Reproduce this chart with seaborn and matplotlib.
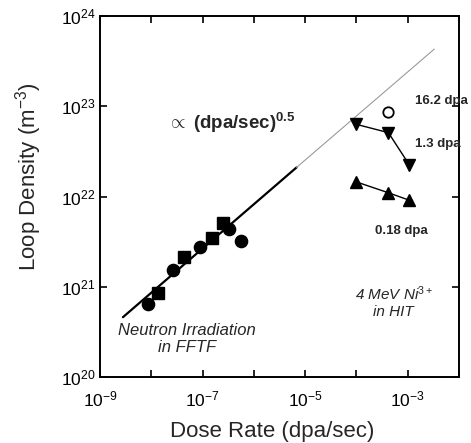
import numpy as np
import pandas as pd
import matplotlib
matplotlib.use("Agg")
import matplotlib.pyplot as plt
import matplotlib.ticker as mticker
import seaborn as sns

# ---- data ----
nc_rate = [8.7e-9, 2.7e-8, 9.1e-8, 3.3e-7, 5.6e-7]          # neutron, circles
nc_dens = [6.5e20, 1.55e21, 2.75e21, 4.4e21, 3.2e21]
ns_rate = [1.38e-8, 4.4e-8, 1.55e-7, 2.45e-7]               # neutron, squares
ns_dens = [8.5e20, 2.15e21, 3.45e21, 5.1e21]
hi13_rate = [1.0e-4, 4.2e-4, 1.07e-3]                        # 1.3 dpa, down triangles
hi13_dens = [6.3e22, 5.1e22, 2.25e22]
hi018_rate = [1.0e-4, 4.2e-4, 1.07e-3]                       # 0.18 dpa, up triangles
hi018_dens = [1.45e22, 1.1e22, 9.1e21]
hi162_rate = [4.2e-4]                                        # 16.2 dpa, open circle
hi162_dens = [8.7e22]
fit_solid_rate = [2.8e-9, 6.8e-6]
fit_solid_dens = [4.6e20, 2.1e22]
fit_dot_rate = [6.8e-6, 3.3e-3]
fit_dot_dens = [2.1e22, 4.3e23]

sns.set_style("ticks")
plt.rcParams['font.family'] = ['Liberation Sans', 'DejaVu Sans']
plt.rcParams['mathtext.fontset'] = 'custom'
plt.rcParams['mathtext.rm'] = 'Liberation Sans'
plt.rcParams['mathtext.it'] = 'Liberation Sans:italic'
plt.rcParams['mathtext.bf'] = 'Liberation Sans:bold'

fig = plt.figure(figsize=(4.71, 4.43), dpi=100)
ax = fig.add_axes([100/471, 66/443, 359/471, 361/443])

# fit line
sns.lineplot(x=fit_solid_rate, y=fit_solid_dens, ax=ax, color='black', lw=1.6, sort=False)
sns.lineplot(x=fit_dot_rate, y=fit_dot_dens, ax=ax, color='#9a9a9a', lw=0.8, sort=False)

# ion lines
sns.lineplot(x=hi13_rate, y=hi13_dens, ax=ax, color='black', lw=1.0, sort=False)
sns.lineplot(x=hi018_rate, y=hi018_dens, ax=ax, color='black', lw=1.0, sort=False)

ax.plot(nc_rate, nc_dens, 'o', color='black', ms=8.8, zorder=5)
ax.plot(ns_rate, ns_dens, 's', color='black', ms=8, zorder=5)
ax.plot(hi13_rate, hi13_dens, 'v', color='black', ms=9, zorder=5)
ax.plot(hi018_rate, hi018_dens, '^', color='black', ms=9, zorder=5)
ax.plot(hi162_rate, hi162_dens, 'o', mfc='white', mec='black', mew=1.3, ms=7.5, zorder=5)

ax.set_xscale('log')
ax.set_yscale('log')
ax.set_xlim(1e-9, 1.0e-2)
ax.set_ylim(1e20, 1e24)

ax.xaxis.set_major_locator(mticker.FixedLocator([10.0**k for k in range(-9, -1)]))
ax.xaxis.set_minor_locator(mticker.NullLocator())
ax.yaxis.set_major_locator(mticker.FixedLocator([10.0**k for k in range(20, 25)]))
ax.yaxis.set_minor_locator(mticker.NullLocator())

def xfmt(v, pos):
    e = int(round(np.log10(v)))
    return r'$10^{%d}$' % e if e in (-9, -7, -5, -3) else ''

def yfmt(v, pos):
    e = int(round(np.log10(v)))
    return r'$10^{%d}$' % e

ax.xaxis.set_major_formatter(mticker.FuncFormatter(xfmt))
ax.yaxis.set_major_formatter(mticker.FuncFormatter(yfmt))
ax.tick_params(which='major', direction='in', length=5, width=1.2, top=True, right=True,
               labelsize=12.5, colors='black')
ax.tick_params(axis='x', pad=9)
ax.tick_params(axis='y', pad=3)
for s in ax.spines.values():
    s.set_linewidth(1.4)
    s.set_color('black')

ax.set_xlabel('Dose Rate (dpa/sec)', fontsize=16)
ax.xaxis.set_label_coords(0.48, -0.15)
ax.xaxis.label.set_va('center')
ax.set_ylabel(r'Loop Density (m$^{-3}$)', fontsize=16)
ax.yaxis.set_label_coords(-0.20, 0.555)
ax.yaxis.label.set_va('center')

ax.text(10**-7.7, 10**22.82, r'$\propto$ (dpa/sec)$^{\mathbf{0.5}}$', fontsize=13.5,
        fontweight='bold', ha='left', va='center')
ax.text(10**-2.85, 10**23.06, '16.2 dpa', fontsize=9.5, fontweight='bold', ha='left', va='center')
ax.text(10**-2.85, 10**22.58, '1.3 dpa', fontsize=9.5, fontweight='bold', ha='left', va='center')
ax.text(10**-3.13, 10**21.62, '0.18 dpa', fontsize=9.5, fontweight='bold', ha='center', va='center')
ax.text(10**-3.27, 10**20.83, '4 MeV Ni$^{\\mathit{3+}}$\nin HIT', fontsize=11, fontstyle='italic',
        ha='center', va='center', linespacing=1.2)
ax.text(10**-7.3, 10**20.42, 'Neutron Irradiation\nin FFTF', fontsize=12, fontstyle='italic',
        ha='center', va='center', linespacing=1.15)

fig.savefig('out.png', dpi=100)
